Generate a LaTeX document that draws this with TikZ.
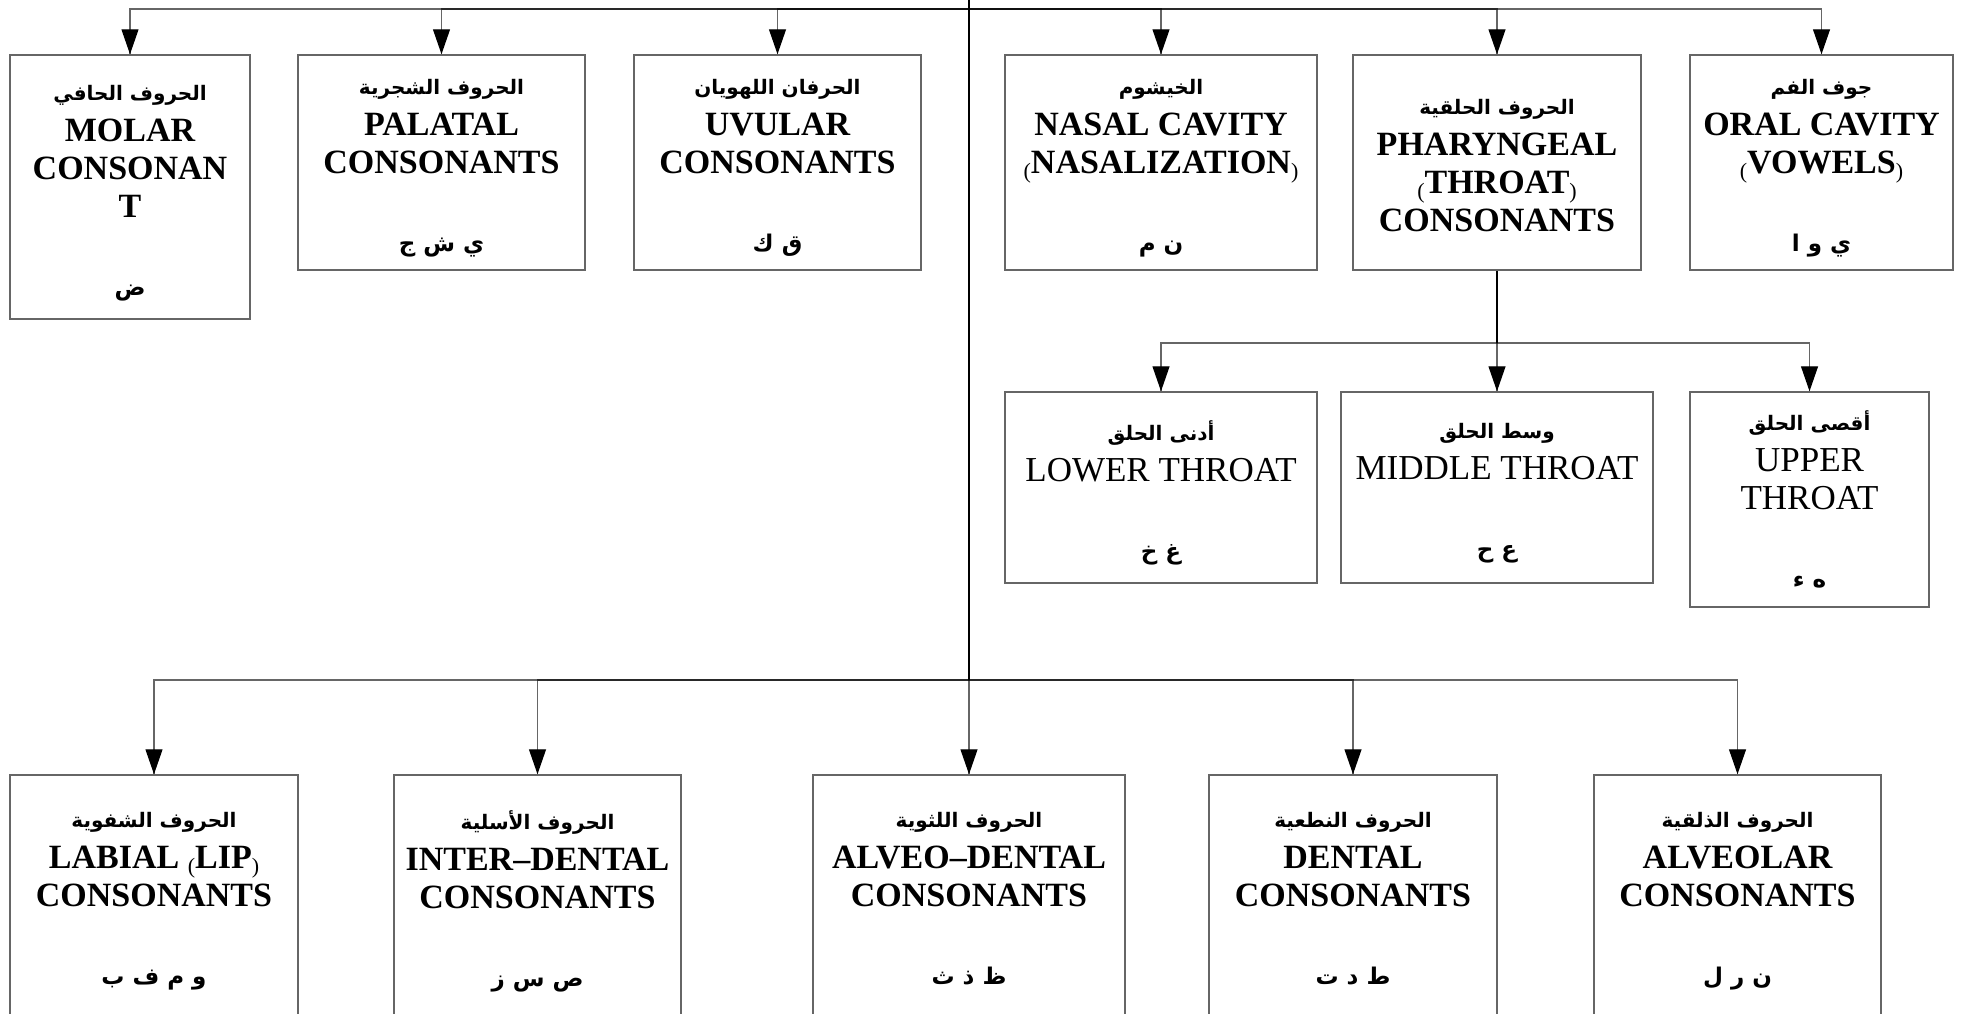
\documentclass[tikz,border=0pt]{standalone}
\usepackage{fontspec}
\setmainfont{Liberation Serif}
\newfontfamily\arabicfont[Script=Arabic]{DejaVu Sans}
\TeXXeTstate=1
\usetikzlibrary{arrows.meta}

% Arabic heading line (with a little room above it) and Arabic letter line
\newcommand\arheadflat[1]{{\arabicfont\bfseries\fontsize{10}{10}\selectfont\beginR #1\endR}}
\newcommand\arhead[1]{\raisebox{0pt}[\dimexpr\height+3pt\relax]{\arheadflat{#1}}}
\newcommand\arlet[1]{\raisebox{0pt}[\height][0pt]{\arabicfont\bfseries\fontsize{11.5}{11.5}\selectfont\beginR #1\endR}}
% small, lowered parentheses
\newcommand\lpar{\raisebox{-2.5pt}{\fontsize{11}{11}\mdseries\selectfont(}}
\newcommand\rpar{\raisebox{-2.5pt}{\fontsize{11}{11}\mdseries\selectfont)}}
% lighter English line used in the throat boxes
\newcommand\plainline[1]{{\mdseries\fontsize{17.5}{19}\selectfont #1}}

\begin{document}
\begin{tikzpicture}[x=0.5pt,y=-0.5pt,
  box/.style={draw=black!60, line width=0.75pt, inner sep=0pt, align=center,
    font=\fontsize{17}{19}\bfseries\selectfont},
  wire/.style={draw=black, draw opacity=0.6, line width=0.6pt},
  trunk/.style={draw=black, line width=1pt},
  tip/.style={draw=black, fill=black, line width=0.6pt,
    -{Triangle[length=12.5pt,width=8.5pt]}}]
\useasboundingbox (0,0) rectangle (1963,1013);
\clip (0,0) rectangle (1963,1013);

% ---- upper row ----
\node[box, minimum width=120pt, minimum height=132pt] (molar) at (130,187)
  {\arhead{الحروف الحافي}\\[1.5pt] MOLAR\\ CONSONAN\\ T\\[20pt] \arlet{ض}};
\node[box, minimum width=143.5pt, minimum height=107.5pt] (palatal) at (441.5,162.5)
  {\arhead{الحروف الشجرية}\\[1.5pt] PALATAL\\ CONSONANTS\\[20pt] \arlet{ي ش ج}};
\node[box, minimum width=143.5pt, minimum height=107.5pt] (uvular) at (777.5,162.5)
  {\arhead{الحرفان اللهويان}\\[1.5pt] UVULAR\\ CONSONANTS\\[20pt] \arlet{ق ك}};
\node[box, minimum width=156pt, minimum height=107.5pt] (nasal) at (1161,162.5)
  {\arhead{الخيشوم}\\[1.5pt] NASAL CAVITY\\ \lpar NASALIZATION\rpar\\[20pt] \arlet{ن م}};
\node[box, minimum width=144pt, minimum height=107.5pt] (pharyngeal) at (1497,162.5)
  {\arhead{الحروف الحلقية}\\[1.5pt] PHARYNGEAL\\ \lpar THROAT\rpar\\ CONSONANTS};
\node[box, minimum width=131.5pt, minimum height=107.5pt] (oral) at (1821.5,162.5)
  {\arhead{جوف الفم}\\[1.5pt] ORAL CAVITY\\ \lpar VOWELS\rpar\\[20pt] \arlet{ي و ا}};

% ---- throat subdivisions ----
\node[box, minimum width=156pt, minimum height=95.5pt] (lower) at (1161,487.5)
  {\arhead{أدنى الحلق}\\[1.5pt] \plainline{LOWER THROAT}\\[20pt] \arlet{غ خ}};
\node[box, minimum width=156pt, minimum height=95.5pt] (middle) at (1497,487.5)
  {\arhead{وسط الحلق}\\[1.5pt] \plainline{MIDDLE THROAT}\\[20pt] \arlet{ع ح}};
\node[box, minimum width=119.5pt, minimum height=107.5pt] (upper) at (1809.5,499.5)
  {\arheadflat{أقصى الحلق}\\[1.5pt] \plainline{UPPER}\\ \plainline{THROAT}\\[20pt] \arlet{ه ء}};

% ---- lower row ----
\node[box, minimum width=144pt, minimum height=120.5pt] (labial) at (154,895.5)
  {\arhead{الحروف الشفوية}\\[1.5pt] LABIAL \lpar LIP\rpar\\ CONSONANTS\\[20pt] \arlet{و م ف ب}};
\node[box, minimum width=143.5pt, minimum height=120.5pt] (interdental) at (537.5,895.5)
  {\arhead{الحروف الأسلية}\\[1.5pt] INTER--DENTAL\\ CONSONANTS\\[20pt] \arlet{ص س ز}};
\node[box, minimum width=156pt, minimum height=120.5pt] (alveodental) at (969,895.5)
  {\arhead{الحروف اللثوية}\\[1.5pt] ALVEO--DENTAL\\ CONSONANTS\\[20pt] \arlet{ظ ذ ث}};
\node[box, minimum width=144pt, minimum height=120.5pt] (dental) at (1353,895.5)
  {\arhead{الحروف النطعية}\\[1.5pt] DENTAL\\ CONSONANTS\\[20pt] \arlet{ط د ت}};
\node[box, minimum width=143.5pt, minimum height=120.5pt] (alveolar) at (1737.5,895.5)
  {\arhead{الحروف الذلقية}\\[1.5pt] ALVEOLAR\\ CONSONANTS\\[20pt] \arlet{ن ر ل}};

% ---- connectors ----
\coordinate (top) at (969,0);
\coordinate (hub) at (969,9);
\coordinate (bhub) at (969,680);
\coordinate (phub) at (1497,343);

\draw[trunk] (top) -- (bhub);
\foreach \t in {molar,palatal,uvular,nasal,pharyngeal,oral}{
  \draw[wire] (hub) -| (\t.north);
  \draw[tip] ([yshift=1pt]\t.north) -- (\t.north);
}
\draw[trunk] (pharyngeal.south) -- (phub);
\foreach \t in {lower,middle,upper}{
  \draw[wire] (phub) -| (\t.north);
  \draw[tip] ([yshift=1pt]\t.north) -- (\t.north);
}
\foreach \t in {labial,interdental,alveodental,dental,alveolar}{
  \draw[wire] (bhub) -| (\t.north);
  \draw[tip] ([yshift=1pt]\t.north) -- (\t.north);
}
\end{tikzpicture}
\end{document}
